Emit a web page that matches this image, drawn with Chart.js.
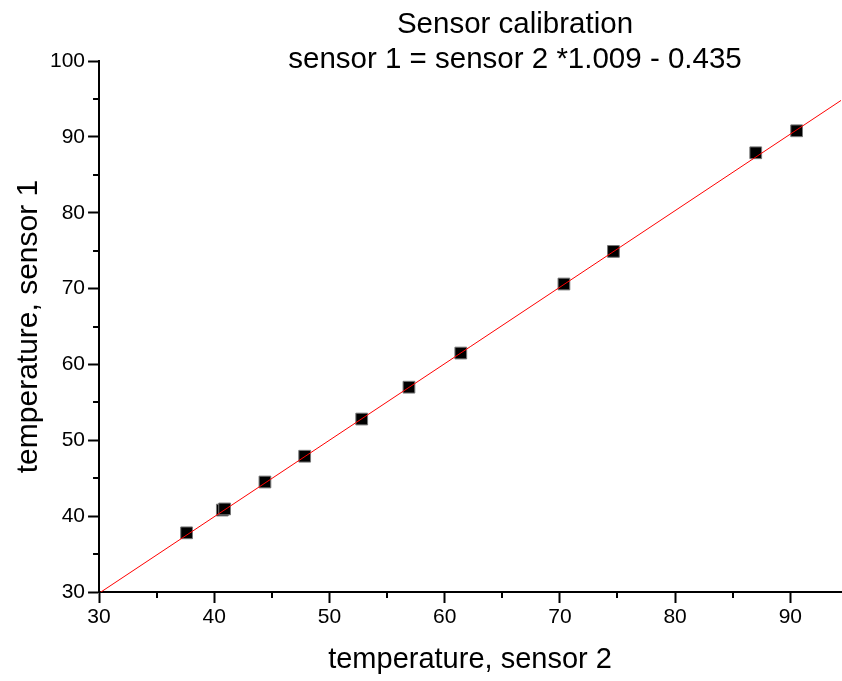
<!DOCTYPE html>
<html>
<head>
<meta charset="utf-8">
<script src="https://cdn.jsdelivr.net/npm/chart.js@4"></script>
<style>
  html, body { margin: 0; padding: 0; background: #fff; }
  #wrap { width: 842px; height: 681px; }
</style>
</head>
<body>
<div id="wrap"><canvas id="calib" width="842" height="681"></canvas></div>
<script>
// measured points (sensor 2 -> x, sensor 1 -> y)
var sensor2 = [37.6, 40.7, 40.9, 44.4, 47.85, 52.8, 56.9, 61.4, 70.35, 74.65, 87.0, 90.55];
var sensor1 = [37.8, 40.8, 40.95, 44.5, 47.9, 52.8, 57.0, 61.5, 70.6, 74.9, 87.9, 90.8];

// fitted line ends
var fitX = [30, 94.4];
var fitY = [29.835, 94.8];

var titleLines = ['Sensor calibration', 'sensor 1 = sensor 2 *1.009 - 0.435'];
var FONT = "'Liberation Sans', Arial, sans-serif";

var pts = sensor2.map(function (x, i) { return { x: x, y: sensor1[i] }; });
var fitPts = fitX.map(function (x, i) { return { x: x, y: fitY[i] }; });

// title + minor ticks drawn by hand
var extras = {
  id: 'extras',
  afterDraw: function (chart) {
    var ctx = chart.ctx;
    ctx.save();
    ctx.fillStyle = '#000';
    ctx.font = '29.5px ' + FONT;
    ctx.textAlign = 'center';
    ctx.textBaseline = 'alphabetic';
    ctx.fillText(titleLines[0], 515, 33);
    ctx.fillText(titleLines[1], 515, 68);

    // minor ticks at 5s
    ctx.strokeStyle = '#000';
    ctx.lineWidth = 2;
    var xs = chart.scales.x, ys = chart.scales.y;
    var a = chart.chartArea;
    ctx.beginPath();
    for (var v = 35; v < xs.max; v += 10) {
      var px = Math.round(xs.getPixelForValue(v));
      ctx.moveTo(px, a.bottom);
      ctx.lineTo(px, a.bottom + 6);
    }
    for (var w = 35; w < ys.max; w += 10) {
      var py = Math.round(ys.getPixelForValue(w));
      ctx.moveTo(a.left, py);
      ctx.lineTo(a.left - 6, py);
    }
    ctx.stroke();
    ctx.restore();
  }
};

function major(ctx) {
  var v = ctx.tick ? ctx.tick.value : null;
  return (v !== null && Math.abs(v % 10) < 1e-6) ? '#000' : 'rgba(0,0,0,0)';
}

new Chart(document.getElementById('calib'), {
  type: 'scatter',
  data: {
    datasets: [
      {
        type: 'line',
        label: 'fit',
        data: fitPts,
        borderColor: '#ff0000',
        borderWidth: 1,
        pointRadius: 0,
        fill: false,
        order: 0
      },
      {
        label: 'sensor',
        data: pts,
        pointStyle: 'rect',
        pointRadius: 8.3,
        backgroundColor: '#000',
        borderColor: '#777',
        borderWidth: 1,
        order: 1
      }
    ]
  },
  options: {
    responsive: false,
    animation: false,
    devicePixelRatio: 1,
    layout: { autoPadding: false, padding: { top: 61, right: 1, left: 11, bottom: 4 } },
    plugins: {
      legend: { display: false },
      tooltip: { enabled: false },
      title: { display: false }
    },
    scales: {
      x: {
        type: 'linear',
        min: 30,
        max: 94.4,
        border: { color: '#000', width: 2 },
        grid: { drawOnChartArea: false, tickLength: 11, tickWidth: 2, tickColor: major },
        ticks: {
          stepSize: 5,
          includeBounds: false,
          color: '#000',
          font: { family: FONT, size: 21 },
          padding: 2,
          maxRotation: 0,
          autoSkip: false,
          callback: function (v) { return v % 10 === 0 ? v : ''; }
        },
        title: {
          display: true,
          text: 'temperature, sensor 2',
          color: '#000',
          font: { family: FONT, size: 29 },
          padding: { top: 10, bottom: 0 }
        }
      },
      y: {
        type: 'linear',
        min: 30,
        max: 100,
        border: { color: '#000', width: 2 },
        grid: { drawOnChartArea: false, tickLength: 11, tickWidth: 2, tickColor: major },
        ticks: {
          stepSize: 5,
          color: '#000',
          font: { family: FONT, size: 21 },
          padding: 3,
          autoSkip: false,
          callback: function (v) { return v % 10 === 0 ? v : ''; }
        },
        title: {
          display: true,
          text: 'temperature, sensor 1',
          color: '#000',
          font: { family: FONT, size: 30 },
          padding: { top: 0, bottom: 0 }
        }
      }
    }
  },
  plugins: [extras]
});
</script>
</body>
</html>
